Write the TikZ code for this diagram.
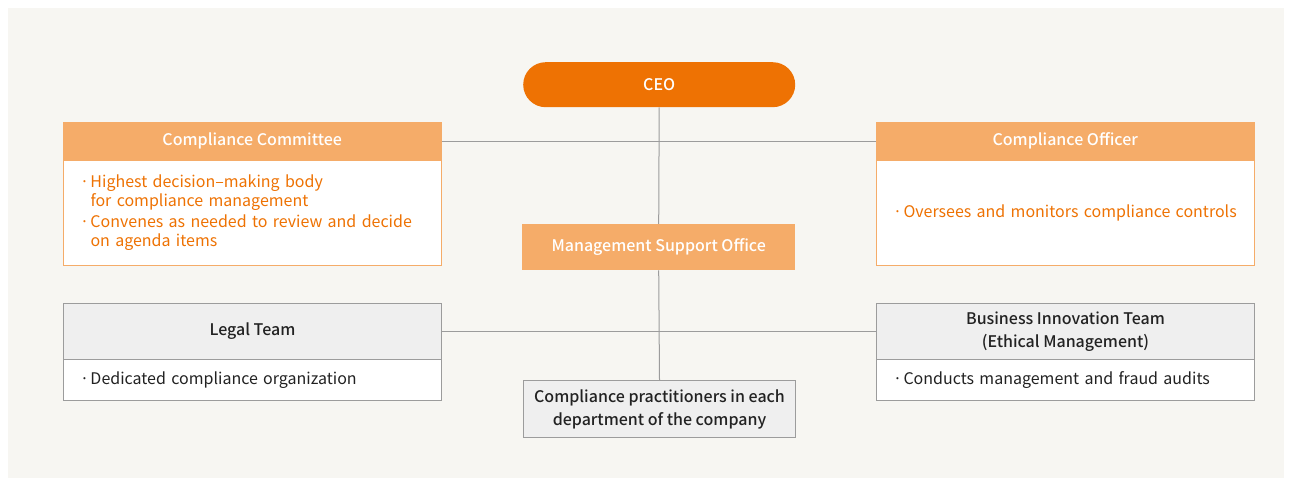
\documentclass[tikz,border=0pt]{standalone}
\usepackage{fontspec}
\setmainfont{Noto Sans CJK KR}
\newfontfamily\medfont{Noto Sans CJK KR Medium}
\definecolor{bgc}{HTML}{F7F6F2}
\definecolor{ceoc}{HTML}{EE7203}
\definecolor{headc}{HTML}{F5AC69}
\definecolor{txto}{HTML}{EE7203}
\definecolor{grayhead}{HTML}{EFEFEF}
\definecolor{grayline}{HTML}{9C9C9C}
\definecolor{txtd}{HTML}{222222}
\tikzset{
  boxbase/.style={rectangle, inner sep=0pt, anchor=north west},
  ohead/.style={boxbase, fill=headc, text=white, font=\fontsize{16}{19}\selectfont\medfont},
  obody/.style={boxbase, fill=white, draw=headc, line width=1pt, text=txto, align=left,
    font=\fontsize{16}{20}\selectfont, inner xsep=11pt},
  ghead/.style={boxbase, fill=grayhead, draw=grayline, line width=1pt, text=txtd, align=center,
    font=\fontsize{16}{23}\selectfont\medfont},
  gbody/.style={boxbase, fill=white, draw=grayline, line width=1pt, text=txtd, align=left,
    font=\fontsize{16}{20}\selectfont, inner xsep=11pt},
  conn/.style={draw=grayline, line width=1pt},
}
\newcommand{\bul}{\hspace*{7pt}\makebox[9pt][l]{\hspace{-1.5pt}·}}
\newcommand{\ind}{\hspace*{16pt}}
\begin{document}
\begin{tikzpicture}[x=1pt,y=-1pt]
\useasboundingbox (0,0) rectangle (1292,486);
\fill[white] (0,0) rectangle (1292,486);
\fill[bgc] (8,8) rectangle (1284,478);

% CEO
\node[rectangle, rounded corners=22.5pt, fill=ceoc, text=white, minimum width=272pt, minimum height=45pt,
  inner sep=0pt, anchor=north west, font=\fontsize{16}{19}\selectfont\medfont] (ceo) at (523,62) {CEO};

% Compliance Committee
\node[obody, minimum width=378pt, minimum height=105pt, text width=356pt] (ccb) at (63,160)
  {\bul Highest decision–making body\\[-1pt] \ind for compliance management\\[1pt]
   \bul Convenes as needed to review and decide\\[-1pt] \ind on agenda items};
\node[ohead, minimum width=379pt, minimum height=38pt] (cch) at (62.5,122) {Compliance Committee};

% Compliance Officer
\node[obody, minimum width=378pt, minimum height=105pt, text width=356pt] (cob) at (876,160)
  {\bul Oversees and monitors compliance controls};
\node[ohead, minimum width=379pt, minimum height=38pt] (coh) at (875.5,122) {Compliance Officer};

% Management Support Office
\node[ohead, minimum width=273pt, minimum height=46pt] (mso) at (522,224) {Management Support Office};

% Legal Team
\node[ghead, minimum width=378pt, minimum height=56pt] (lth) at (63,303) {Legal Team};
\node[gbody, minimum width=378pt, minimum height=41pt, text width=356pt] (ltb) at (63,359)
  {\bul Dedicated compliance organization};

% Business Innovation Team
\node[ghead, minimum width=378pt, minimum height=56pt] (bih) at (876,303)
  {Business Innovation Team\\(Ethical Management)};
\node[gbody, minimum width=378pt, minimum height=41pt, text width=356pt] (bib) at (876,359)
  {\bul Conducts management and fraud audits};

% Compliance practitioners
\node[ghead, minimum width=272pt, minimum height=57pt] (cpr) at (523,380)
  {Compliance practitioners in each\\department of the company};

% connectors
\draw[conn] (ceo.south) -- (mso.north);
\draw[conn] (mso.south) -- (cpr.north);
\draw[conn] (cch.east) -- (coh.west);
\draw[conn] (lth.east) -- (bih.west);
\end{tikzpicture}
\end{document}
